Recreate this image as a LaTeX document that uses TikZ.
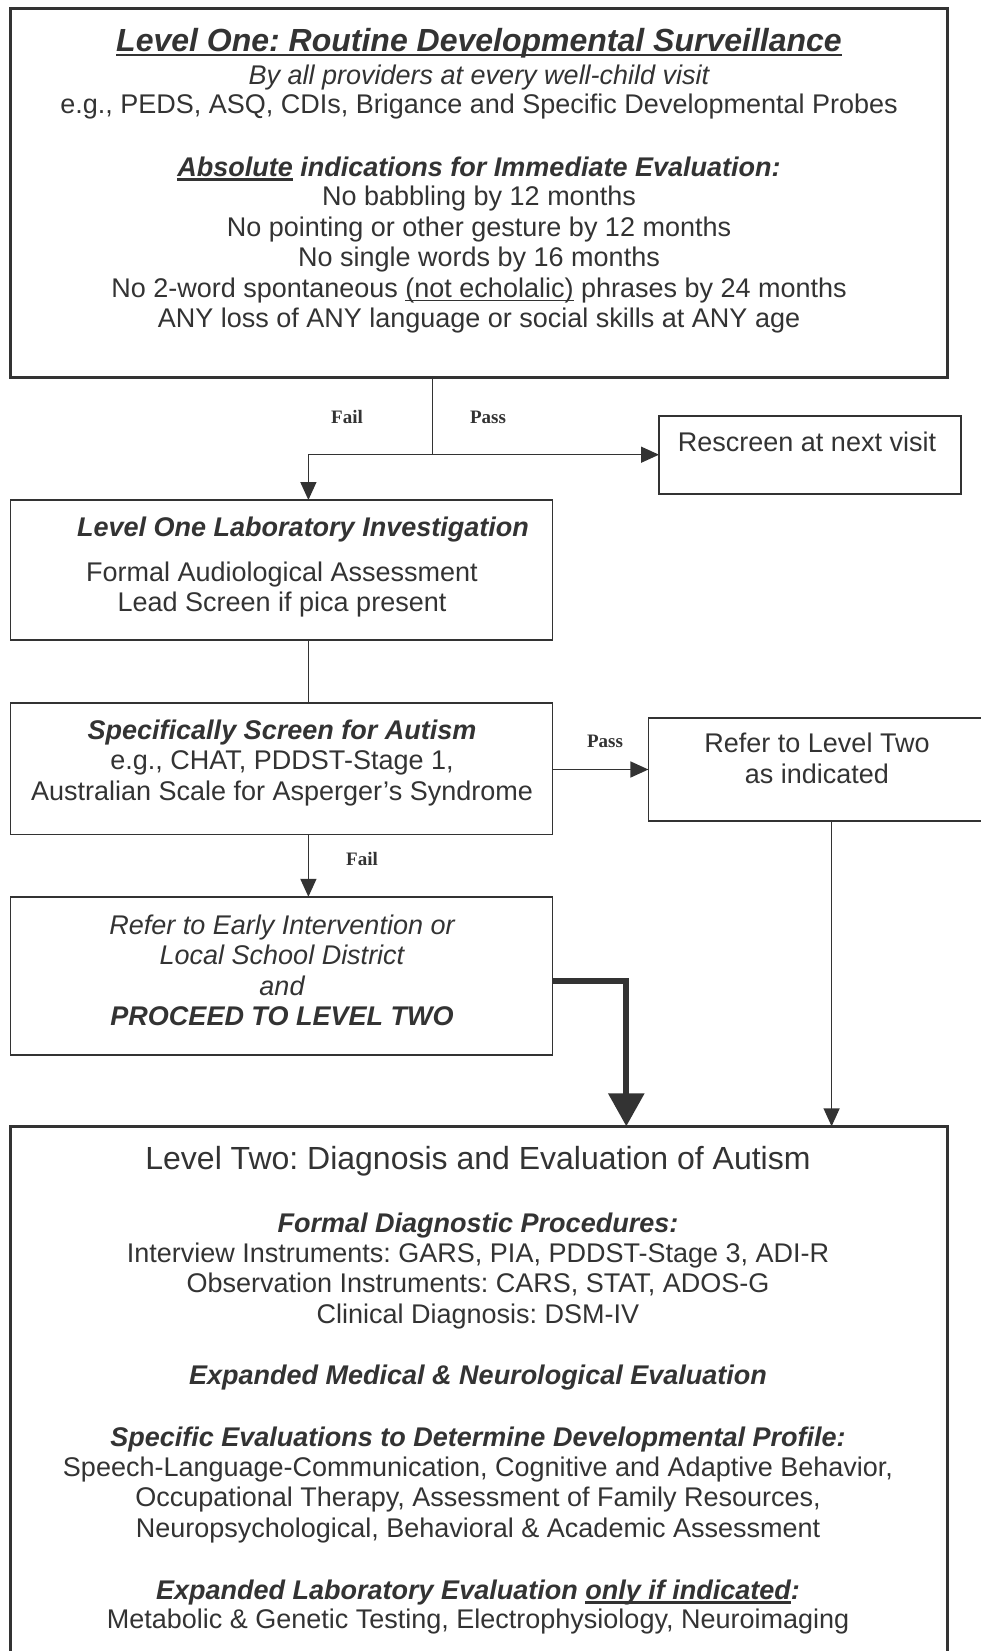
\documentclass[tikz,border=0pt]{standalone}
\usepackage{fontspec}
\setmainfont{Liberation Sans}
\newfontfamily\lblfont{Liberation Serif}
\usetikzlibrary{arrows.meta}
\definecolor{ink}{HTML}{333333}
\newcommand\myul[3]{\setbox0\hbox{#3}\makebox[0pt][l]{\rule[#1]{\wd0}{#2}}\box0\relax}
\frenchspacing
\begin{document}
\begin{tikzpicture}[x=1pt,y=-1pt,
  box/.style={draw=ink, line width=1.5pt, inner sep=0pt, outer sep=0pt, anchor=north west},
  bigbox/.style={box, line width=3pt},
  txt/.style={anchor=base, align=center, inner sep=0pt, text=ink, font=\fontsize{27}{30.5}\selectfont},
  ttl/.style={txt, font=\fontsize{32}{36}\selectfont},
  lbl/.style={anchor=base, inner sep=0pt, text=ink, font=\fontsize{19}{22}\selectfont\lblfont\bfseries},
  conn/.style={draw=ink, line width=1.5pt},
  arr/.style={conn, -{Triangle[length=18pt,width=16pt]}},
  fat/.style={draw=ink, line width=6pt, -{Triangle[length=33pt,width=35pt]}}
]
\useasboundingbox (0,0) rectangle (980,1651);
\fill[white] (0,0) rectangle (980,1651);

% boxes
\node[bigbox, minimum width=936.5pt, minimum height=368.6pt] (top) at (10.5,8.4) {};
\node[box, minimum width=302pt, minimum height=78pt] (resc) at (659,415.8) {};
\node[box, minimum width=542pt, minimum height=140pt] (lab) at (10.5,500) {};
\node[box, minimum width=542pt, minimum height=131.7pt] (scr) at (10.5,703) {};
\node[box, minimum width=345pt, minimum height=103pt] (ref) at (648.4,718) {};
\node[box, minimum width=542pt, minimum height=158pt] (early) at (10.5,896.8) {};
\node[bigbox, minimum width=936.5pt, minimum height=560pt] (l2) at (10.5,1126.3) {};

% top box text
\node[ttl] (t1) at (479,51.5) {\bfseries\itshape\myul{-5pt}{2.8pt}{Level One: Routine Developmental Surveillance}};
\node[txt] (t2) at (479,84.4) {\itshape By all providers at every well-child visit};
\node[txt] (t3) at (479,113.9) {e.g., PEDS, ASQ, CDIs, Brigance and Specific Developmental Probes};
\node[txt] (t4) at (479,176) {\bfseries\itshape\myul{-4.5pt}{2.2pt}{Absolute} indications for Immediate Evaluation:};
\node[txt] (t5) at (479,205.5) {No babbling by 12 months};
\node[txt] (t6) at (479,236) {No pointing or other gesture by 12 months};
\node[txt] (t7) at (479,266.5) {No single words by 16 months};
\node[txt] (t8) at (479,297.1) {No 2-word spontaneous \myul{-4pt}{1.5pt}{(not echolalic)} phrases by 24 months};
\node[txt] (t9) at (479,327.6) {ANY loss of ANY language or social skills at ANY age};

% rescreen
\node[txt] (r1) at (807,451.7) {Rescreen at next visit};

% lab
\node[txt] (la1) at (303,536) {\bfseries\itshape Level One Laboratory Investigation};
\node[txt] (la2) at (282,581.3) {Formal Audiological Assessment};
\node[txt] (la3) at (282,611.7) {Lead Screen if pica present};

% screen
\node[txt] (s1) at (282,739.5) {\bfseries\itshape Specifically Screen for Autism};
\node[txt] (s2) at (282,769.5) {e.g., CHAT, PDDST-Stage 1,};
\node[txt] (s3) at (282,800) {Australian Scale for Asperger’s Syndrome};

% refer
\node[txt] (f1) at (817,752.7) {Refer to Level Two};
\node[txt] (f2) at (817,783.4) {as indicated};

% early
\node[txt] (e1) at (282,934.7) {\itshape Refer to Early Intervention or};
\node[txt] (e2) at (282,964.4) {\itshape Local School District};
\node[txt] (e3) at (282,995) {\itshape and};
\node[txt] (e4) at (282,1025.5) {\bfseries\itshape PROCEED TO LEVEL TWO};

% level two
\node[ttl] (v1) at (478,1169.5) {Level Two: Diagnosis and Evaluation of Autism};
\node[txt] (v2) at (478,1232.7) {\bfseries\itshape Formal Diagnostic Procedures:};
\node[txt] (v3) at (478,1262.3) {Interview Instruments: GARS, PIA, PDDST-Stage 3, ADI-R};
\node[txt] (v4) at (478,1292.7) {Observation Instruments: CARS, STAT, ADOS-G};
\node[txt] (v5) at (478,1323.3) {Clinical Diagnosis: DSM-IV};
\node[txt] (v6) at (478,1384.4) {\bfseries\itshape Expanded Medical \& Neurological Evaluation};
\node[txt] (v7) at (478,1446.5) {\bfseries\itshape Specific Evaluations to Determine Developmental Profile:};
\node[txt] (v8) at (478,1476) {Speech-Language-Communication, Cognitive and Adaptive Behavior,};
\node[txt] (v9) at (478,1506.5) {Occupational Therapy, Assessment of Family Resources,};
\node[txt] (v10) at (478,1537) {Neuropsychological, Behavioral \& Academic Assessment};
\node[txt] (v11) at (478,1599.1) {\bfseries\itshape Expanded Laboratory Evaluation \myul{-4.5pt}{2.2pt}{only if indicated}:};
\node[txt] (v12) at (478,1628.7) {Metabolic \& Genetic Testing, Electrophysiology, Neuroimaging};

% labels
\node[lbl] (lf1) at (347,423.8) {Fail};
\node[lbl] (lp1) at (488,423.8) {Pass};
\node[lbl] (lp2) at (605,747.8) {Pass};
\node[lbl] (lf2) at (362,865.8) {Fail};

% connectors
\coordinate (j) at (432.6,454.7);
\coordinate (fl) at (308.4,454.7);
\coordinate (pp) at (0,769.5);
\coordinate (tk) at (626.3,981);
\coordinate (rx) at (831.6,0);
\draw[conn] (j |- top.south) -- (j);
\draw[arr] (fl) -- (resc.west |- j);
\draw[arr] (fl) -- (fl |- lab.north);
\draw[conn] (fl |- lab.south) -- (fl |- scr.north);
\draw[arr] (scr.east |- pp) -- (ref.west |- pp);
\draw[arr] (fl |- scr.south) -- (fl |- early.north);
\draw[fat] (early.east |- tk) -- (tk) -- (tk |- l2.north);
\draw[arr] (rx |- ref.south) -- (rx |- l2.north);
\end{tikzpicture}
\end{document}
